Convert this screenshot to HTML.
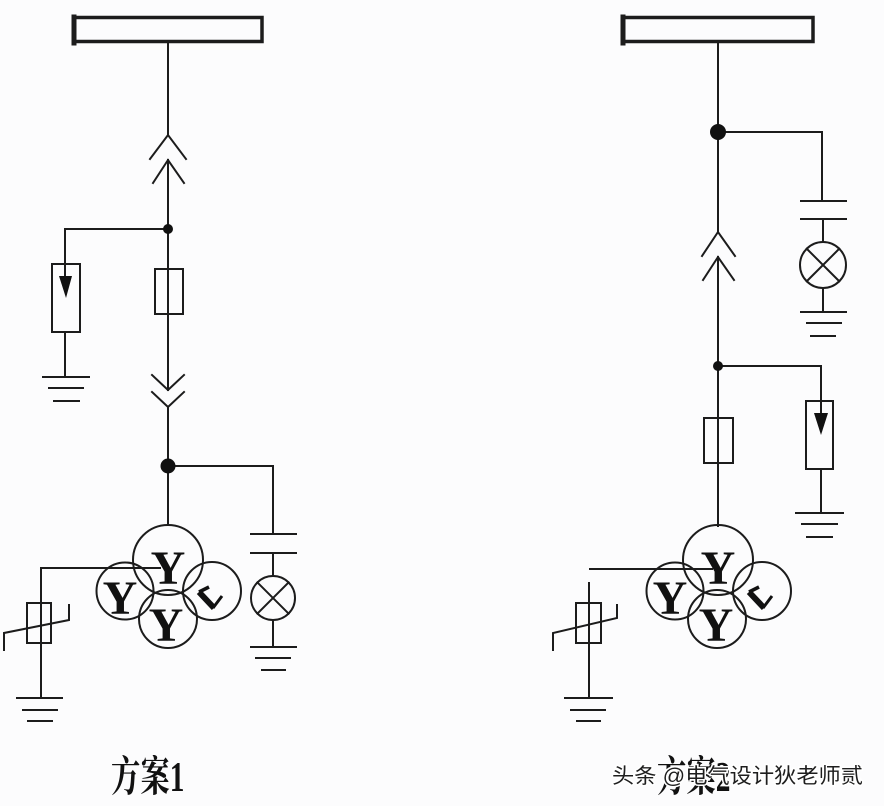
<!DOCTYPE html>
<html><head><meta charset="utf-8">
<style>
html,body{margin:0;padding:0;background:#fcfcfd;}
svg{display:block;}
</style></head>
<body>
<svg width="884" height="806" viewBox="0 0 884 806" xmlns="http://www.w3.org/2000/svg">
<rect x="0" y="0" width="884" height="806" fill="#fcfcfd"/>
<g stroke="#1c1c1c" stroke-width="2" fill="none" stroke-linecap="square">
<!-- LEFT SCHEME -->
<rect x="74" y="17.5" width="188" height="24" stroke-width="3.5"/>
<line x1="74" y1="17" x2="74" y2="43" stroke-width="5"/>
<line x1="168" y1="43" x2="168" y2="135"/>
<polyline points="150,159 168,135 186,159"/>
<polyline points="153,183 168,160 184,183"/>
<line x1="168" y1="160" x2="168" y2="390"/>
<rect x="155" y="269" width="28" height="45"/>
<polyline points="65,264 65,229 168,229"/>
<rect x="52" y="264" width="28" height="68"/>
<line x1="65" y1="264" x2="65" y2="276"/>
<line x1="65" y1="332" x2="65" y2="377"/>
<line x1="43" y1="377" x2="89" y2="377"/>
<line x1="49" y1="388" x2="83" y2="388"/>
<line x1="54" y1="401" x2="79" y2="401"/>
<polyline points="152,375 168,390 184,375"/>
<polyline points="152,392 168,407 184,392"/>
<line x1="168" y1="407" x2="168" y2="525"/>
<polyline points="168,466 273,466 273,534"/>
<line x1="251" y1="534" x2="296" y2="534"/>
<line x1="251" y1="553" x2="296" y2="553"/>
<line x1="273" y1="553" x2="273" y2="576"/>
<circle cx="273" cy="598" r="22"/>
<line x1="257.4" y1="582.4" x2="288.6" y2="613.6"/>
<line x1="288.6" y1="582.4" x2="257.4" y2="613.6"/>
<line x1="273" y1="620" x2="273" y2="647"/>
<line x1="251" y1="647" x2="296" y2="647"/>
<line x1="256" y1="658" x2="290" y2="658"/>
<line x1="262" y1="670" x2="285" y2="670"/>
<circle cx="168" cy="560" r="35"/>
<circle cx="125" cy="591" r="28.5"/>
<circle cx="168" cy="619" r="29"/>
<circle cx="212" cy="591" r="29"/>
<polyline points="160,568 41,568 41,698"/>
<rect x="27" y="603" width="24" height="40"/>
<polyline points="4,650 4,633 69,620 69,605"/>
<line x1="17" y1="698" x2="62" y2="698"/>
<line x1="23" y1="710" x2="57" y2="710"/>
<line x1="28" y1="721" x2="52" y2="721"/>

<!-- RIGHT SCHEME -->
<rect x="623" y="17.5" width="190" height="24" stroke-width="3.5"/>
<line x1="623" y1="17" x2="623" y2="43" stroke-width="5"/>
<line x1="718" y1="43" x2="718" y2="232"/>
<polyline points="822,132 718,132"/>
<line x1="822" y1="132" x2="822" y2="201"/>
<line x1="801" y1="201" x2="846" y2="201"/>
<line x1="801" y1="219" x2="846" y2="219"/>
<line x1="823" y1="219" x2="823" y2="242"/>
<circle cx="823" cy="265" r="23"/>
<line x1="806.7" y1="248.7" x2="839.3" y2="281.3"/>
<line x1="839.3" y1="248.7" x2="806.7" y2="281.3"/>
<line x1="823" y1="288" x2="823" y2="312"/>
<line x1="801" y1="312" x2="846" y2="312"/>
<line x1="807" y1="323" x2="841" y2="323"/>
<line x1="811" y1="336" x2="835" y2="336"/>
<polyline points="702,256 718,232 735,256"/>
<polyline points="703,280 718,257 734,280"/>
<line x1="718" y1="257" x2="718" y2="526"/>
<polyline points="718,366 821,366 821,401"/>
<rect x="806" y="401" width="27" height="68"/>
<line x1="821" y1="401" x2="821" y2="413"/>
<line x1="821" y1="469" x2="821" y2="513"/>
<line x1="796" y1="513" x2="843" y2="513"/>
<line x1="802" y1="524" x2="837" y2="524"/>
<line x1="807" y1="537" x2="832" y2="537"/>
<rect x="704" y="418" width="29" height="45"/>
<circle cx="718" cy="560" r="35"/>
<circle cx="675" cy="591" r="28.5"/>
<circle cx="717" cy="619" r="29"/>
<circle cx="762" cy="591" r="29"/>
<line x1="712" y1="569" x2="590" y2="569"/>
<line x1="589" y1="583" x2="589" y2="698"/>
<rect x="576" y="603" width="25" height="40"/>
<polyline points="553,650 553,633 617,618 617,605"/>
<line x1="565" y1="698" x2="612" y2="698"/>
<line x1="571" y1="710" x2="605" y2="710"/>
<line x1="577" y1="721" x2="600" y2="721"/>
</g>

<!-- open-delta symbols -->
<g stroke="#111" fill="none" stroke-linejoin="miter" stroke-linecap="butt">
<polyline points="209,587 199,592" stroke-width="3.5"/>
<line x1="199" y1="592" x2="214" y2="608" stroke-width="6"/>
<polyline points="213,608 222,596" stroke-width="3"/>
<polyline points="759,587 749,592" stroke-width="3.5"/>
<line x1="749" y1="592" x2="764" y2="608" stroke-width="6"/>
<polyline points="763,608 772,596" stroke-width="3"/>
</g>

<!-- dots -->
<g fill="#111">
<circle cx="168" cy="229" r="5"/>
<circle cx="168" cy="466" r="7.5"/>
<circle cx="718" cy="132" r="8"/>
<circle cx="718" cy="366" r="5"/>
<polygon points="59,276 72,276 66,298"/>
<polygon points="814,413 828,413 821,435"/>
</g>

<!-- Y letters -->
<g font-family="'Liberation Serif', serif" font-weight="bold" font-size="48" fill="#111" text-anchor="middle">
<text x="168" y="584">Y</text>
<text x="120" y="614">Y</text>
<text x="166" y="641">Y</text>
<text x="718" y="584">Y</text>
<text x="670" y="614">Y</text>
<text x="716" y="641">Y</text>
</g>

<!-- labels -->
<g font-family="'Liberation Serif', 'Noto Serif CJK SC', serif" font-weight="bold" font-size="42" fill="#111">
<text transform="translate(111,791) scale(0.7,1)">方案1</text>
<text transform="translate(657,791) scale(0.7,1)">方案2</text>
</g>
<text x="612" y="783" font-family="'Liberation Sans', 'Noto Sans CJK SC', sans-serif" font-size="21" fill="#1e1e1e" stroke="#ffffff" stroke-width="3" paint-order="stroke" textLength="251" lengthAdjust="spacingAndGlyphs">头条 @电气设计狄老师贰</text>
</svg>
</body></html>
